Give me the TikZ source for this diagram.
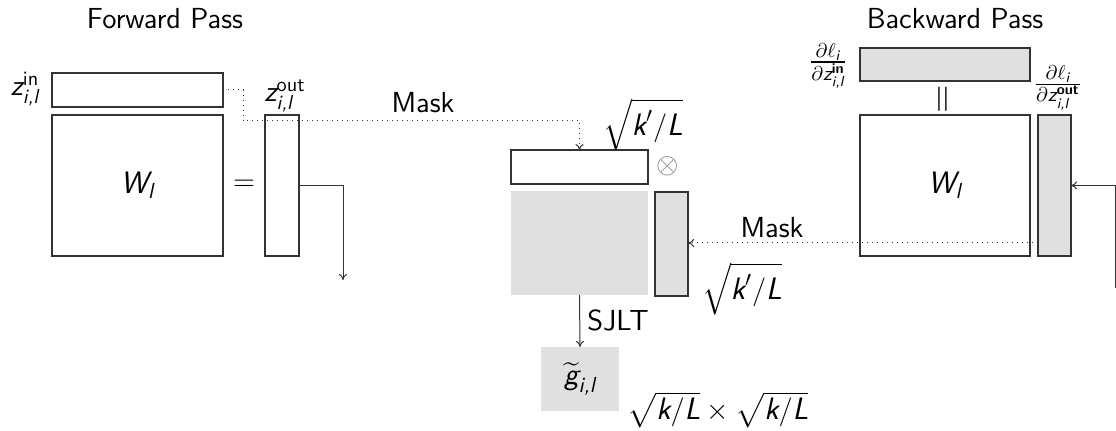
\documentclass[tikz,border=0pt]{standalone}
\usepackage{amsmath}
\usetikzlibrary{arrows.meta,calc}
\definecolor{lc}{HTML}{333333}
\definecolor{gf}{HTML}{E0E0E0}
\newcommand{\bx}[6]{\node[#6, anchor=north west, minimum width={(#4-#2)*0.5pt}, minimum height={(#5-#3)*0.5pt}] (#1) at (#2,#3) {};}
\newcommand{\mi}[1]{\text{\sffamily\slshape #1}}
\newcommand{\mt}[1]{\text{\sffamily\upshape #1}}
\newcommand{\mb}[1]{\text{\sffamily\bfseries\upshape #1}}
\begin{document}
\begin{tikzpicture}[x=0.5pt,y=-0.5pt,
  mat/.style={draw=lc, line width=0.75pt, inner sep=0pt, outer sep=0pt},
  gmat/.style={mat, fill=gf},
  gsq/.style={fill=gf, inner sep=0pt, outer sep=0pt},
  conn/.style={draw=lc, line width=0.5pt, -{To[length=3pt,width=4pt]}},
  dconn/.style={conn, dotted},
  lbl/.style={inner sep=0pt, font=\sffamily\fontsize{14.5}{17}\selectfont},
  blbl/.style={inner sep=0pt, font=\sffamily\fontsize{15.5}{18}\selectfont}]
\useasboundingbox (0,0) rectangle (1116,431);
% titles
\node[lbl] (ft) at (165,19) {Forward Pass};
\node[lbl] (bt) at (955,19) {Backward Pass};
% forward pass
\bx{zin}{52}{73}{223}{107}{mat}
\bx{fw}{52}{115}{223}{256}{mat}
\bx{zout}{265}{115}{299}{256}{mat}
\node[lbl] (zinl) at (25,89) {$\mi{z}^{\mt{in}}_{\mi{i,l}}$};
\node[lbl] (zoutl) at (285,96) {$\mi{z}^{\mt{out}}_{\mi{i,l}}$};
\node[blbl] (fwl) at (fw.center) {$\mi{W}_{\mi{l}}$};
\node[lbl] (eq) at (244,185) {$=$};
\node[lbl] (mask1) at (423,103) {Mask};
% middle
\bx{top}{511}{150}{648}{184}{mat}
\bx{gs}{511}{191}{648}{295}{gsq}
\bx{midr}{655}{192}{688}{296}{gmat}
\bx{gt}{541}{347}{619}{411}{gsq}
\node[blbl] (sq1) at (643,125) {$\sqrt{\mi{k}'/\mi{L}}$};
\node[lbl, text=gray] (ot) at (668,166) {$\otimes$};
\node[blbl] (sq2) at (742,289) {$\sqrt{\mi{k}'/\mi{L}}$};
\node[lbl] (mask2) at (772,228) {Mask};
\node[lbl] (sjlt) at (618,320) {SJLT};
\node[blbl] (gtl) at (gt.center) {$\widetilde{\mi{g}}_{\mi{i,l}}$};
\node[blbl] (dims) at (718,410) {$\sqrt{\mi{k}/\mi{L}}\times\sqrt{\mi{k}/\mi{L}}$};
% backward pass
\bx{btop}{860}{48}{1030}{81}{gmat}
\bx{bw}{860}{115}{1030}{256}{mat}
\bx{bwr}{1038}{115}{1071}{256}{gmat}
\node[lbl] (dinl) at (828,66) {$\frac{\partial\ell_{\mi{i}}}{\partial \mi{z}^{\mb{in}}_{\mi{i,l}}}$};
\node[lbl] (doutl) at (1058,88) {$\frac{\partial\ell_{\mi{i}}}{\partial \mi{z}^{\mb{out}}_{\mi{i,l}}}$};
\node[lbl, rotate=90, scale=1.3] (peq) at (945,99) {$=$};
\node[blbl] (bwl) at (bw.center) {$\mi{W}_{\mi{l}}$};
% connectors
\coordinate (c1) at (243,121);
\coordinate (fend) at (343,280);
\coordinate (m1) at (1038,243);
\coordinate (rs) at (1115,288);
\draw[dconn] (zin.east) -| (c1) -| (top.north);
\draw[conn] (zout.east) -| (fend);
\draw[conn] (gs.south) -- (gt.north);
\draw[dconn] (m1) -- (m1 -| midr.east);
\draw[conn] (rs) |- (bwr.east);
\end{tikzpicture}
\end{document}
